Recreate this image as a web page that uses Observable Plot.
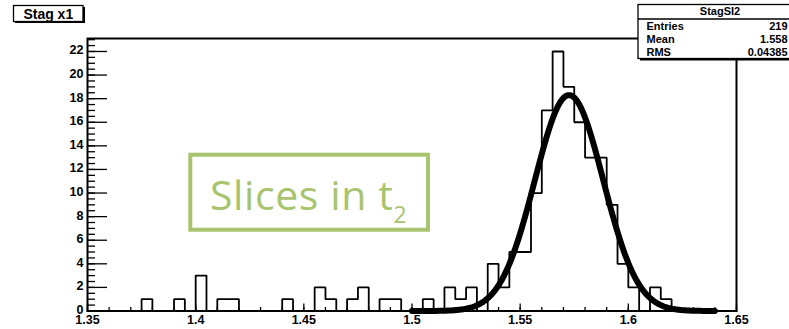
<!DOCTYPE html>
<html>
<head>
<meta charset="utf-8">
<script src="https://cdn.jsdelivr.net/npm/d3@7"></script>
<script src="https://cdn.jsdelivr.net/npm/@observablehq/plot@0.6"></script>
<style>
  html, body { margin: 0; padding: 0; background: #fff; }
  #wrap { position: relative; width: 789px; height: 329px; overflow: hidden; }
  #wrap svg { position: absolute; left: 0; top: 0; }
</style>
</head>
<body>
<div id="wrap"></div>
<script>
// ---------- data ----------
const histName = "StagSI2";
const histTitle = "Stag x1";
const binStart = 1.35;      // lower edge of first bin
const binWidth = 0.005;     // bin width
const counts = [
  0, 0, 0, 0, 0, 1, 0, 0, 1, 0,
  3, 0, 1, 1, 0, 0, 0, 0, 1, 0,
  0, 2, 1, 0, 1, 2, 0, 1, 1, 0,
  0, 1, 0, 2, 1, 2, 0, 4, 2, 5,
  5, 10, 17, 22, 19, 16, 13, 13, 9, 4,
  2, 0, 2, 1, 0, 0, 0, 0, 0, 0
];
const statLabels = ["Entries", "Mean", "RMS"];
const statValues = ["219", "1.558", "0.04385"];
// Gaussian fit parameters
const fitConstant = 18.3;
const fitMean = 1.5726;
const fitSigma = 0.0158;
const fitRange = [1.50, 1.64];
// axes
const xDomain = [1.35, 1.65];
const yDomain = [0, 23.1];
const xTickValues = [1.35, 1.4, 1.45, 1.5, 1.55, 1.6, 1.65];
const xTickLabels = ["1.35", "1.4", "1.45", "1.5", "1.55", "1.6", "1.65"];
const yTickValues = [0, 2, 4, 6, 8, 10, 12, 14, 16, 18, 20, 22];
const yTickLabels = ["0", "2", "4", "6", "8", "10", "12", "14", "16", "18", "20", "22"];
const xMinorStep = 0.01;
const yMinorStep = 0.5;
const annotationText = "Slices in t";
const annotationSub = "2";

// ---------- derived tables ----------
const histPts = [];
counts.forEach((c, i) => {
  const lo = binStart + i * binWidth, hi = binStart + (i + 1) * binWidth;
  histPts.push({x: lo, y: c}, {x: hi, y: c});
});
const fitPts = d3.range(fitRange[0], fitRange[1] + 1e-9, 0.0005).map(x => ({
  x, y: fitConstant * Math.exp(-0.5 * ((x - fitMean) / fitSigma) ** 2)
}));
const xMinor = d3.range(xDomain[0], xDomain[1] + 1e-9, xMinorStep).map(v => +v.toFixed(4));
const yMinor = d3.range(0, yDomain[1], yMinorStep);

const W = 789, H = 329;
const font = "'Liberation Sans', Arial, Helvetica, sans-serif";

const chart = Plot.plot({
  width: W, height: H,
  marginLeft: 87, marginRight: 53, marginTop: 38, marginBottom: 18.5,
  x: {domain: xDomain},
  y: {domain: yDomain},
  style: {fontFamily: font, fontWeight: "bold", fontSize: "12.5px", color: "#000", background: "#fff", overflow: "visible"},
  marks: [
    // x ticks (pointing up into the frame)
    Plot.axisX(xMinor, {tickSize: 3.5, dy: -3.5, tickFormat: () => "", label: null, strokeWidth: 1.3}),
    Plot.axisX(xTickValues, {tickSize: 7, dy: -7, tickFormat: () => "", label: null, strokeWidth: 1.3}),
    Plot.axisX(xTickValues, {tickSize: 0, tickPadding: 4, tickFormat: (d, i) => xTickLabels[i], label: null}),
    // y ticks (pointing right into the frame)
    Plot.axisY(yMinor, {tickSize: 8, dx: 8, tickFormat: () => "", label: null, strokeWidth: 1.3}),
    Plot.axisY(yTickValues, {tickSize: 20, dx: 20, tickFormat: () => "", label: null, strokeWidth: 1.3}),
    Plot.axisY(yTickValues, {tickSize: 0, tickPadding: 4, dy: -1, tickFormat: (d, i) => yTickLabels[i], label: null}),
    Plot.line(histPts, {x: "x", y: "y", stroke: "#000", strokeWidth: 1.8, strokeLinejoin: "miter"}),
    Plot.line(fitPts, {x: "x", y: "y", stroke: "#000", strokeWidth: 6, strokeLinejoin: "round"}),
    Plot.frame({stroke: "#000", strokeWidth: 2})
  ]
});
document.getElementById("wrap").appendChild(chart);

// ---------- overlay: title box, stats box, annotation ----------
const ov = d3.select("#wrap").append("svg")
  .attr("width", W).attr("height", H)
  .style("font-family", font);

// title box with shadow
ov.append("rect").attr("x", 15).attr("y", 7).attr("width", 70).attr("height", 16).attr("fill", "#000");
ov.append("rect").attr("x", 13.5).attr("y", 5.5).attr("width", 69.5).attr("height", 16)
  .attr("fill", "#fff").attr("stroke", "#000").attr("stroke-width", 1.3);
ov.append("text").attr("x", 48.3).attr("y", 19).attr("text-anchor", "middle")
  .attr("font-size", 14).attr("font-weight", "bold").text(histTitle);

// stats box with shadow
const sx = 638, sy = 4.5, sw = 164, sh = 54;
ov.append("rect").attr("x", sx + 2).attr("y", sy + 2).attr("width", sw).attr("height", sh).attr("fill", "#000");
ov.append("rect").attr("x", sx).attr("y", sy).attr("width", sw).attr("height", sh)
  .attr("fill", "#fff").attr("stroke", "#000").attr("stroke-width", 1.3);
ov.append("line").attr("x1", sx).attr("x2", sx + sw).attr("y1", 19).attr("y2", 19)
  .attr("stroke", "#000").attr("stroke-width", 1.3);
ov.append("text").attr("x", 720).attr("y", 15).attr("text-anchor", "middle")
  .attr("font-size", 11).attr("font-weight", "bold").text(histName);
statLabels.forEach((s, i) => {
  const by = 29.5 + i * 13.3;
  ov.append("text").attr("x", 646.5).attr("y", by).attr("font-size", 11).attr("font-weight", "bold").text(s);
  ov.append("text").attr("x", 787.5).attr("y", by).attr("text-anchor", "end")
    .attr("font-size", 11).attr("font-weight", "bold").text(statValues[i]);
});

// green annotation box
const green = "#a8c46e";
ov.append("rect").attr("x", 190.3).attr("y", 154.7).attr("width", 237.7).attr("height", 75)
  .attr("fill", "#fff").attr("stroke", green).attr("stroke-width", 4);
const t = ov.append("text").attr("x", 210).attr("y", 210)
  .attr("font-family", "'Open Sans', sans-serif").attr("font-size", 41)
  .attr("letter-spacing", 0.6).attr("fill", green);
t.append("tspan").text(annotationText);
t.append("tspan").attr("font-size", 23).attr("dy", 12.7).text(annotationSub);
</script>
</body>
</html>
